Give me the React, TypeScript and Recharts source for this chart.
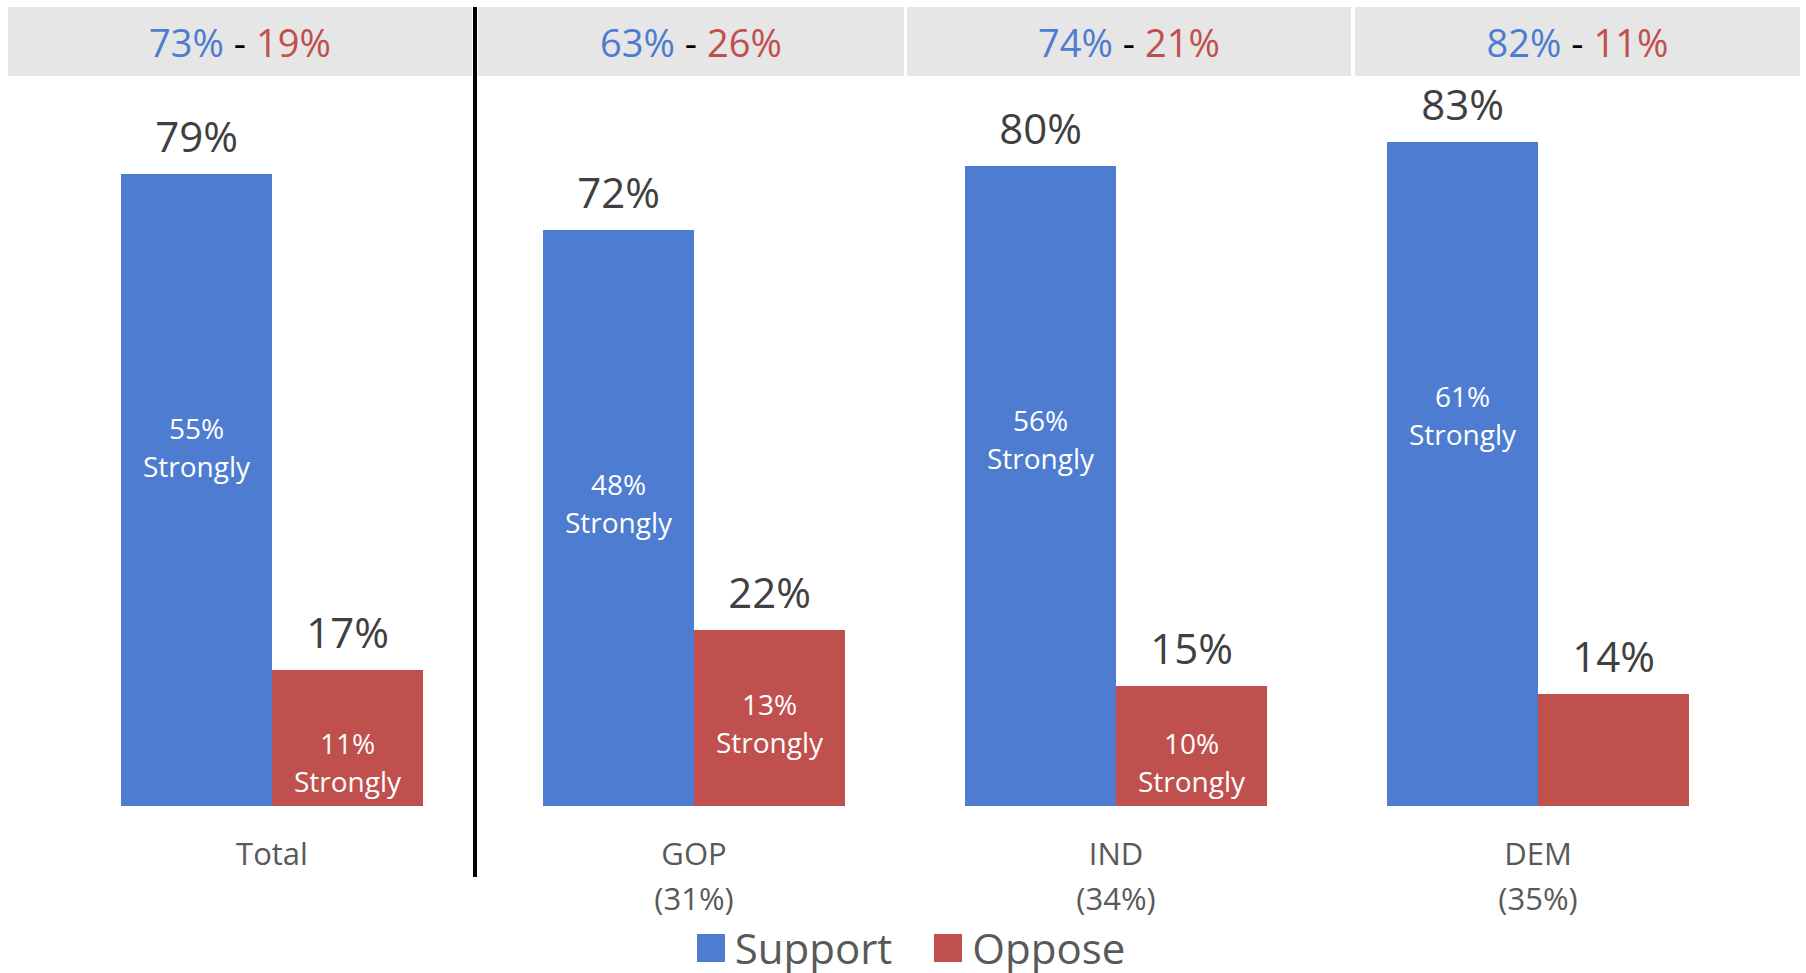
import { Bar, BarChart, LabelList, Legend, XAxis, YAxis } from "recharts";

const categories = ["Total", "GOP", "IND", "DEM"];
const partyShare = ["", "(31%)", "(34%)", "(35%)"];
const support = [79, 72, 80, 83];
const oppose = [17, 22, 15, 14];
const supportStrongly = [55, 48, 56, 61];
const opposeStrongly: (number | null)[] = [11, 13, 10, null];
const netSupport = [73, 63, 74, 82];
const netOppose = [19, 26, 21, 11];

const BLUE = "#4D7CD0";
const RED = "#C0504D";
const FONT = "'Open Sans', sans-serif";

const data = categories.map((name, i) => ({
  name,
  share: partyShare[i],
  support: support[i],
  oppose: oppose[i],
}));

// header cells: [left, right] in page px
const headerCells = [
  [8, 472],
  [478, 904],
  [907, 1351],
  [1355, 1800],
];

const CategoryTick = (props: any) => {
  const { x, y, index } = props;
  return (
    <g>
      <text x={x} y={y + 39} textAnchor="middle" dominantBaseline="central" fontSize={31} fill="#595959" fontFamily={FONT}>
        {categories[index]}
      </text>
      {partyShare[index] && (
        <text x={x} y={y + 84} textAnchor="middle" dominantBaseline="central" fontSize={31} fill="#595959" fontFamily={FONT}>
          {partyShare[index]}
        </text>
      )}
    </g>
  );
};

// two-line "NN% / Strongly" label inside a bar; centre sits `fromTop` below the bar top,
// but never closer than `fromBottom` to the bar bottom
const strongLabel = (values: (number | null)[], fromTop: number, fromBottom: number) => (props: any) => {
  const { x, y, width, height, index } = props;
  const v = values[index];
  if (v == null) return null;
  const cx = x + width / 2;
  const cy = Math.min(y + fromTop, y + height - fromBottom);
  return (
    <g>
      <text x={cx} y={cy - 19} textAnchor="middle" dominantBaseline="central" fontSize={28} fill="#fff" fontFamily={FONT}>
        {v}%
      </text>
      <text x={cx} y={cy + 19} textAnchor="middle" dominantBaseline="central" fontSize={28} fill="#fff" fontFamily={FONT}>
        Strongly
      </text>
    </g>
  );
};

const LegendContent = () => (
  <div style={{ display: "flex", justifyContent: "center", alignItems: "center", height: 60, fontFamily: FONT, fontSize: 42, lineHeight: "60px", color: "#595959" }}>
    <span style={{ width: 28, height: 28, background: BLUE, display: "inline-block", marginRight: 10 }} />
    <span style={{ marginRight: 42 }}>Support</span>
    <span style={{ width: 28, height: 28, background: RED, display: "inline-block", marginRight: 10 }} />
    <span>Oppose</span>
  </div>
);

export default function App() {
  return (
    <div style={{ position: "absolute", left: 0, top: 0, width: 1806, height: 973, background: "#fff" }}>
      {headerCells.map(([l, r], i) => (
        <div
          key={i}
          style={{
            position: "absolute",
            left: l,
            top: 7,
            width: r - l,
            height: 69,
            background: "#E6E6E6",
            display: "flex",
            alignItems: "center",
            justifyContent: "center",
            fontFamily: FONT,
            fontSize: 38,
          }}
        >
          <span style={{ color: BLUE }}>{netSupport[i]}%</span>
          <span style={{ color: "#000", whiteSpace: "pre" }}> - </span>
          <span style={{ color: RED }}>{netOppose[i]}%</span>
        </div>
      ))}
      <div style={{ position: "absolute", left: 473, top: 7, width: 4, height: 870, background: "#000" }} />
      <div style={{ position: "absolute", left: 0, top: 0 }}>
        <BarChart
          width={1806}
          height={973}
          data={data}
          margin={{ top: 86, right: 57, left: 61, bottom: 0 }}
          barGap={0}
          barSize={151}
        >
          <XAxis dataKey="name" axisLine={false} tickLine={false} height={167} tick={<CategoryTick />} interval={0} />
          <YAxis hide domain={[0, 90]} />
          <Legend verticalAlign="middle" align="center" content={<LegendContent />} wrapperStyle={{ top: 918, left: 8, width: 1806, height: 60 }} />
          <Bar dataKey="support" name="Support" fill={BLUE} isAnimationActive={false}>
            <LabelList dataKey="support" position="top" offset={22} formatter={(v: any) => `${v}%`} fontSize={42} fill="#404040" fontFamily={FONT} />
            <LabelList dataKey="support" content={strongLabel(supportStrongly, 273, 44)} />
          </Bar>
          <Bar dataKey="oppose" name="Oppose" fill={RED} isAnimationActive={false}>
            <LabelList dataKey="oppose" position="top" offset={22} formatter={(v: any) => `${v}%`} fontSize={42} fill="#404040" fontFamily={FONT} />
            <LabelList dataKey="oppose" content={strongLabel(opposeStrongly, 93, 44)} />
          </Bar>
        </BarChart>
      </div>
    </div>
  );
}
